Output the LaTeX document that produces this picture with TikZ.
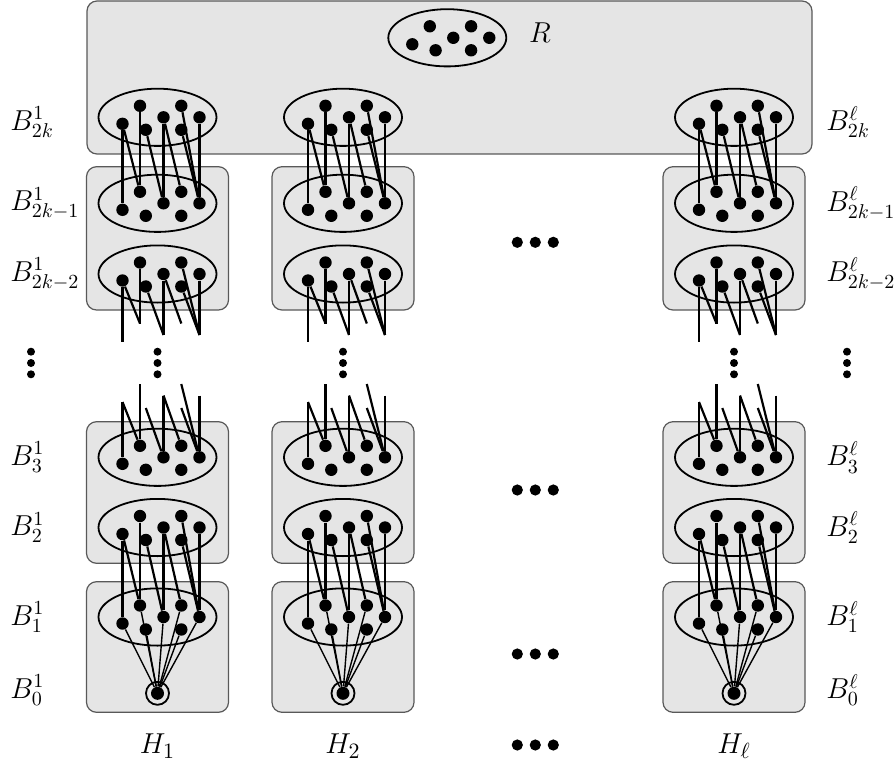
\documentclass[tikz,border=0pt]{standalone}
\usetikzlibrary{shapes.geometric}

\tikzset{
	bag/.style={draw, ellipse, line width=0.9pt, minimum width=59pt, minimum height=28.6pt, inner sep=0pt},
	vx/.style={circle, fill, inner sep=0pt, minimum size=6.2pt},
	root/.style={draw, circle, line width=0.9pt, inner sep=0pt, minimum size=11.5pt},
	link/.style={line width=1.1pt},
	fan/.style={line width=0.7pt},
	part/.style={draw=black!65, fill=black!10, line width=0.6pt, rounded corners=5pt},
	lab/.style={inner sep=0pt, font=\fontsize{13.8}{16}\selectfont},
}

%% the seven vertices of a bag: name/dx/dy
\newcommand{\dotpattern}{a/-35/6.5, b/-17.5/-11.5, c/-11.7/12.5, d/6/0, e/23.8/-11.5, f/23.8/12.5, g/42/0}
%% bag: name, x, y
\newcommand{\drawbag}[3]{%
	\node[bag] (#1) at (#2,#3) {};
	\foreach \p/\dx/\dy in \dotpattern
		\node[vx] (#1\p) at ([shift={(\dx,\dy)}]#2,#3) {};
}
%% bag that is left out (only the ends of the edges)
\newcommand{\ghostbag}[3]{%
	\foreach \p/\dx/\dy in \dotpattern
		\coordinate (#1\p) at ([shift={(\dx,\dy)}]#2,#3);
}
%% edges from an upper to a lower bag
\newcommand{\joinbags}[2]{%
	\foreach \up/\lo in {a/a, a/b, b/b, c/d, d/d, d/e, e/g, f/g, g/g}
		\draw[link] (#1\up) -- (#2\lo);
}

\begin{document}
\begin{tikzpicture}[x=0.5pt, y=-0.5pt]
	\useasboundingbox (0,0) rectangle (894,765);

	%% R
	\draw[part] (87,1) rectangle (812,154);
	\drawbag{r}{447.3}{37.8}
	\node[lab, font=\fontsize{14.5}{17}\selectfont] (rlab) at (540,33) {$R$};

	%% Spalten H_1, H_2, H_l
	\foreach \col/\x/\s in {1/157.5/1, 2/343/2, l/734/\ell} {
		\draw[part] (\x-71,166.7) rectangle (\x+71,310);
		\draw[part] (\x-71,421.7) rectangle (\x+71,563.3);
		\draw[part] (\x-71,581.7) rectangle (\x+71,712.3);

		\drawbag{b\col-t}{\x}{117.3}
		\drawbag{b\col-s}{\x}{203.3}
		\drawbag{b\col-r}{\x}{274}
		\ghostbag{v\col-d}{\x}{335}
		\ghostbag{v\col-u}{\x}{395.5}
		\drawbag{b\col-3}{\x}{457.3}
		\drawbag{b\col-2}{\x}{527.5}
		\drawbag{b\col-1}{\x}{617}
		\node[root] (b\col-0r) at (\x,693.3) {};
		\node[vx, minimum size=6.5pt] (b\col-0) at (\x,693.3) {};

		\joinbags{b\col-t}{b\col-s}
		\joinbags{b\col-r}{v\col-d}
		\joinbags{v\col-u}{b\col-3}
		\joinbags{b\col-2}{b\col-1}
		\foreach \p in {a,b,c,d,e,f,g}
			\draw[fan] (b\col-1\p) -- (b\col-0);

		\foreach \y in {351.7,363,374.3}
			\fill (\x,\y) circle (2pt);
		\node[lab, font=\fontsize{15}{18}\selectfont] (h\col) at (\x,746) {$H_{\s}$};
	}

	%% Beschriftung links und rechts
	\foreach \n/\y/\t in {t/122/2k, s/203.3/2k-1, r/274/2k-2, 3/457.3/3, 2/527.5/2, 1/617/1, 0/690/0} {
		\node[lab, anchor=west] (left\n) at (10,\y) {$B^1_{\t}$};
		\node[lab, anchor=west] (right\n) at (826,\y) {$B^\ell_{\t}$};
	}
	\foreach \y in {351.7,363,374.3} {
		\fill (31,\y) circle (2pt);
		\fill (847,\y) circle (2pt);
	}

	%% Punkte dazwischen
	\foreach \y in {242.3,490,654,745}
		\foreach \x in {517.3,535.3,553.3}
			\fill (\x,\y) circle (2.8pt);
\end{tikzpicture}
\end{document}
